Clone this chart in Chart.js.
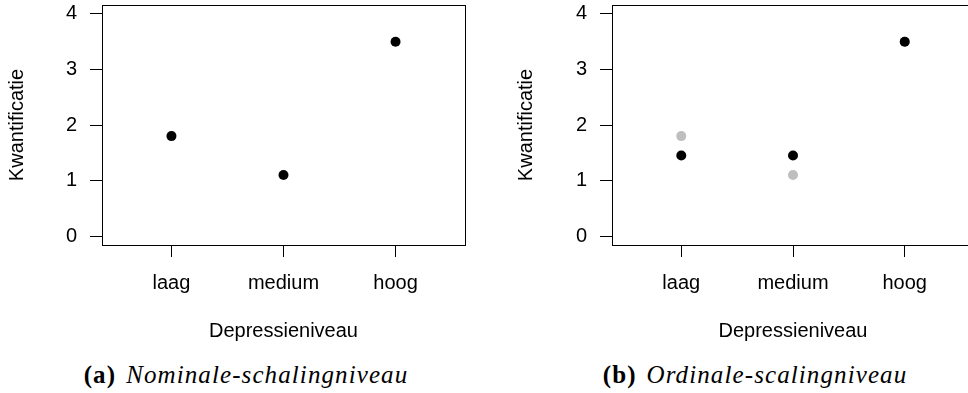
<!DOCTYPE html>
<html>
<head>
<meta charset="utf-8">
<script src="https://cdn.jsdelivr.net/npm/chart.js@4.4.1/dist/chart.umd.min.js"></script>
<style>
  html, body { margin: 0; padding: 0; background: #fff; overflow: hidden; width: 968px; height: 393px; }
  .panel { position: absolute; top: 0; }
  .cap { position: absolute; top: 361px; font-family: "Liberation Serif", serif; font-size: 25px; letter-spacing: 1.1px; color: #000; white-space: nowrap; transform: translateX(-50%); }
  .cap b { font-weight: bold; }
  .cap i { font-style: italic; margin-left: 10px; }
</style>
</head>
<body>
<div class="panel" style="left:0px;"><canvas id="c1" width="484" height="350"></canvas></div>
<div class="panel" style="left:484px;"><canvas id="c2" width="500" height="350"></canvas></div>
<div class="cap" style="left:246px;"><b>(a)</b><i>Nominale-schalingniveau</i></div>
<div class="cap" style="left:755px;"><b>(b)</b><i>Ordinale-scalingniveau</i></div>
<script>
// ---- data ----
const categories = ["laag", "medium", "hoog"];
const nominalValues = [1.8, 1.1, 3.5];
const ordinalValues = [1.45, 1.45, 3.5];
const yTicks = [0, 1, 2, 3, 4];
const xLabel = "Depressieniveau";
const yLabel = "Kwantificatie";

const FONT = { family: "'Liberation Sans', Arial, sans-serif", size: 20 };

function pts(vals) { return vals.map((v, i) => ({ x: i + 1, y: v })); }

const boxPlugin = {
  id: 'box',
  afterDraw(chart) {
    const { ctx, chartArea: a } = chart;
    ctx.save();
    ctx.strokeStyle = '#000';
    ctx.lineWidth = 1;
    ctx.strokeRect(Math.round(a.left) + 0.5, Math.round(a.top) + 0.5,
                   Math.round(a.right - a.left), Math.round(a.bottom - a.top));
    ctx.restore();
  }
};

function zeroPad(s) { s.paddingTop = 0; s.paddingBottom = 0; s.paddingLeft = 0; s.paddingRight = 0; }

function makeChart(id, datasets, o) {
  return new Chart(document.getElementById(id), {
    type: 'scatter',
    data: { datasets },
    plugins: [boxPlugin],
    options: {
      responsive: false,
      devicePixelRatio: 1,
      animation: false,
      events: [],
      layout: { padding: { top: 5, right: o.padRight, left: 0, bottom: 0 } },
      plugins: { legend: { display: false }, tooltip: { enabled: false } },
      scales: {
        x: {
          type: 'linear', min: 0.38, max: 3.62,
          afterBuildTicks: s => { s.ticks = categories.map((c, i) => ({ value: i + 1 })); },
          afterFit: s => { s.height = 105; zeroPad(s); },
          ticks: { callback: (v, i) => categories[i], color: '#000', font: FONT, padding: 14, maxRotation: 0, autoSkip: false },
          grid: { display: true, drawOnChartArea: false, drawTicks: true, tickLength: 12, color: '#000', lineWidth: 1 },
          border: { display: false },
          title: { display: true, text: xLabel, color: '#000', font: FONT, padding: { top: 0, bottom: 7 } }
        },
        y: {
          type: 'linear', min: -0.16, max: 4.16,
          afterBuildTicks: s => { s.ticks = yTicks.map(v => ({ value: v })); },
          afterFit: s => { s.width = o.yWidth; zeroPad(s); },
          ticks: { color: '#000', font: FONT, padding: 13, callback: v => String(v) },
          grid: { display: true, drawOnChartArea: false, drawTicks: true, tickLength: 12, color: '#000', lineWidth: 1 },
          border: { display: false },
          title: { display: true, text: yLabel, color: '#000', font: FONT, padding: { top: o.yTitlePad, bottom: 0 } }
        }
      }
    }
  });
}

makeChart('c1', [
  { data: pts(nominalValues), backgroundColor: '#000', borderColor: '#000', pointRadius: 5, borderWidth: 0 }
], { padRight: 19, yWidth: 102, yTitlePad: 5.5 });

makeChart('c2', [
  { data: pts(ordinalValues), backgroundColor: '#000', borderColor: '#000', pointRadius: 5, borderWidth: 0 },
  { data: pts(nominalValues), backgroundColor: '#bebebe', borderColor: '#bebebe', pointRadius: 5, borderWidth: 0 }
], { padRight: 10, yWidth: 128, yTitlePad: 30.5 });
</script>
</body>
</html>
